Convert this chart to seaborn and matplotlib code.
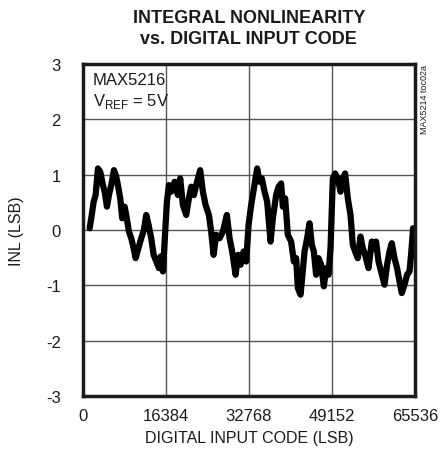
"""INL vs digital input code, MAX5216 (toc02a) recreation."""

import pandas as pd
import seaborn as sns
import matplotlib.pyplot as plt

# Horizontal pixel position of the trace and INL (LSB)
CODE_PX = [89.7, 91.3, 93.7, 95.7, 98, 100.3, 103, 104.7, 107, 109, 111.3, 114, 116.3,
           118, 120.3, 122.3, 124.7, 126.3, 129, 131.3, 133.7, 135.7, 138, 141.3, 144,
           146.3, 148.7, 151.3, 153.7, 156.3, 159, 160.7, 163, 164.7, 167, 169, 171.3,
           174.7, 178, 180.3, 183, 186.3, 189, 191.3, 194, 196.3, 200.3, 203, 205.7,
           209, 211.3, 213.7, 216.3, 219.7, 223, 227, 229.7, 232.3, 235.7, 238.3,
           240.7, 243.7, 246.3, 248.7, 251.3, 254, 257.3, 259.7, 262, 264.7, 267.3,
           270.7, 273, 276.3, 278.7, 281.3, 283, 285.3, 288, 291.3, 294, 296.3, 298,
           300.7, 302.3, 304.7, 307.3, 309.7, 312, 314, 316.3, 318.7, 321.3, 324,
           326.3, 328.7, 330.7, 333, 335.3, 338, 340.7, 343, 345.3, 348, 350.7, 353,
           355.3, 358, 360.7, 363, 365.3, 368.7, 372, 374, 376.3, 378.7, 381.3, 384.7,
           387.3, 389.7, 392, 394.7, 397.3, 399.7, 402, 404.7, 407.3, 409.7, 411.3,
           413.3]
INL = [0.03, 0.21, 0.51, 0.63, 1.11, 1.05, 0.81, 0.69, 0.42, 0.63, 0.81, 1.08, 0.96,
       0.81, 0.57, 0.21, 0.42, 0.27, -0.03, -0.15, -0.33, -0.51, -0.36, -0.15, 0.0,
       0.27, 0.09, -0.15, -0.45, -0.57, -0.69, -0.48, -0.75, -0.21, 0.51, 0.81, 0.69,
       0.87, 0.63, 0.93, 0.45, 0.27, 0.57, 0.78, 0.63, 0.81, 1.08, 0.69, 0.45,
       0.27, -0.03, -0.45, -0.09, -0.15, -0.03, 0.27, -0.15, -0.39, -0.81, -0.45,
       -0.63, -0.39, -0.57, 0.09, 0.45, 0.75, 1.11, 0.87, 0.93, 0.69, 0.51,
       -0.21, 0.21, 0.63, 0.78, 0.84, 0.42, 0.57, -0.09, -0.21, -0.57, -0.51, -1.05,
       -1.17, -0.87, -0.39, -0.15, 0.12, -0.27, -0.39, -0.81, -0.51, -0.63, -1.02,
       -0.69, -0.81, -0.33, 0.93, 1.02, 0.93, 0.69, 0.93, 1.02, 0.57, 0.27, -0.27,
       -0.39, -0.51, -0.12, -0.33, -0.45, -0.69, -0.21, -0.33, -0.21, -0.57, -0.75, -0.99,
       -0.63, -0.39, -0.24, -0.51, -0.69, -0.93, -1.14, -0.99, -0.81, -0.75, -0.45,
       0.03]

X_TICKS = [0, 16384, 32768, 49152, 65536]
Y_TICKS = [-3, -2, -1, 0, 1, 2, 3]

FONTS = ["Liberation Sans", "DejaVu Sans"]
INK = "#1a1a1a"


def main():
    sns.set_theme(style="whitegrid")
    plt.rcParams["font.family"] = FONTS
    plt.rcParams["mathtext.fontset"] = "custom"
    plt.rcParams["mathtext.rm"] = "Liberation Sans"

    # pixel trace -> input code (plot spans 332 px for 65536 codes)
    codes = [(x - 83) * 65536 / 332 for x in CODE_PX]
    df = pd.DataFrame({"code": codes, "inl": INL})

    fig = plt.figure(figsize=(4.46, 4.6), dpi=100)
    ax = fig.add_axes([0.186, 0.137, 0.744, 0.722])

    sns.lineplot(data=df, x="code", y="inl", ax=ax, color="black",
                 linewidth=4.5, sort=False)

    ax.set_xlim(0, 65536)
    ax.set_ylim(-3, 3)
    ax.set_xticks(X_TICKS)
    ax.set_yticks(Y_TICKS)
    ax.set_xticklabels([str(t) for t in X_TICKS])
    ax.set_yticklabels([str(t) for t in Y_TICKS])
    ax.tick_params(axis="both", labelsize=12, length=0, colors=INK)
    ax.tick_params(axis="x", pad=9)
    ax.tick_params(axis="y", pad=16)
    ax.grid(True, color="#555555", linewidth=1.0)
    for sp in ax.spines.values():
        sp.set_visible(True)
        sp.set_color(INK)
        sp.set_linewidth(2.5)

    ax.set_xlabel("DIGITAL INPUT CODE (LSB)", fontsize=11.5, color=INK, labelpad=5)
    ax.set_ylabel("INL (LSB)", fontsize=11.5, color=INK, labelpad=16)

    fig.text(0.558, 0.978, "INTEGRAL NONLINEARITY\nvs. DIGITAL INPUT CODE",
             ha="center", va="top", fontsize=13, fontweight="heavy",
             linespacing=1.28, color=INK)

    ax.text(0.03, 0.975, "MAX5216\nV$_{\\mathrm{REF}}$ = 5V", transform=ax.transAxes,
            ha="left", va="top", fontsize=12, color=INK, linespacing=1.25)

    ax.text(1.03, 1.0, "MAX5214 toc02a", transform=ax.transAxes, rotation=90,
            ha="center", va="top", fontsize=6.5, color=INK)

    fig.savefig("out.png", dpi=100)
    plt.close(fig)


if __name__ == "__main__":
    main()
